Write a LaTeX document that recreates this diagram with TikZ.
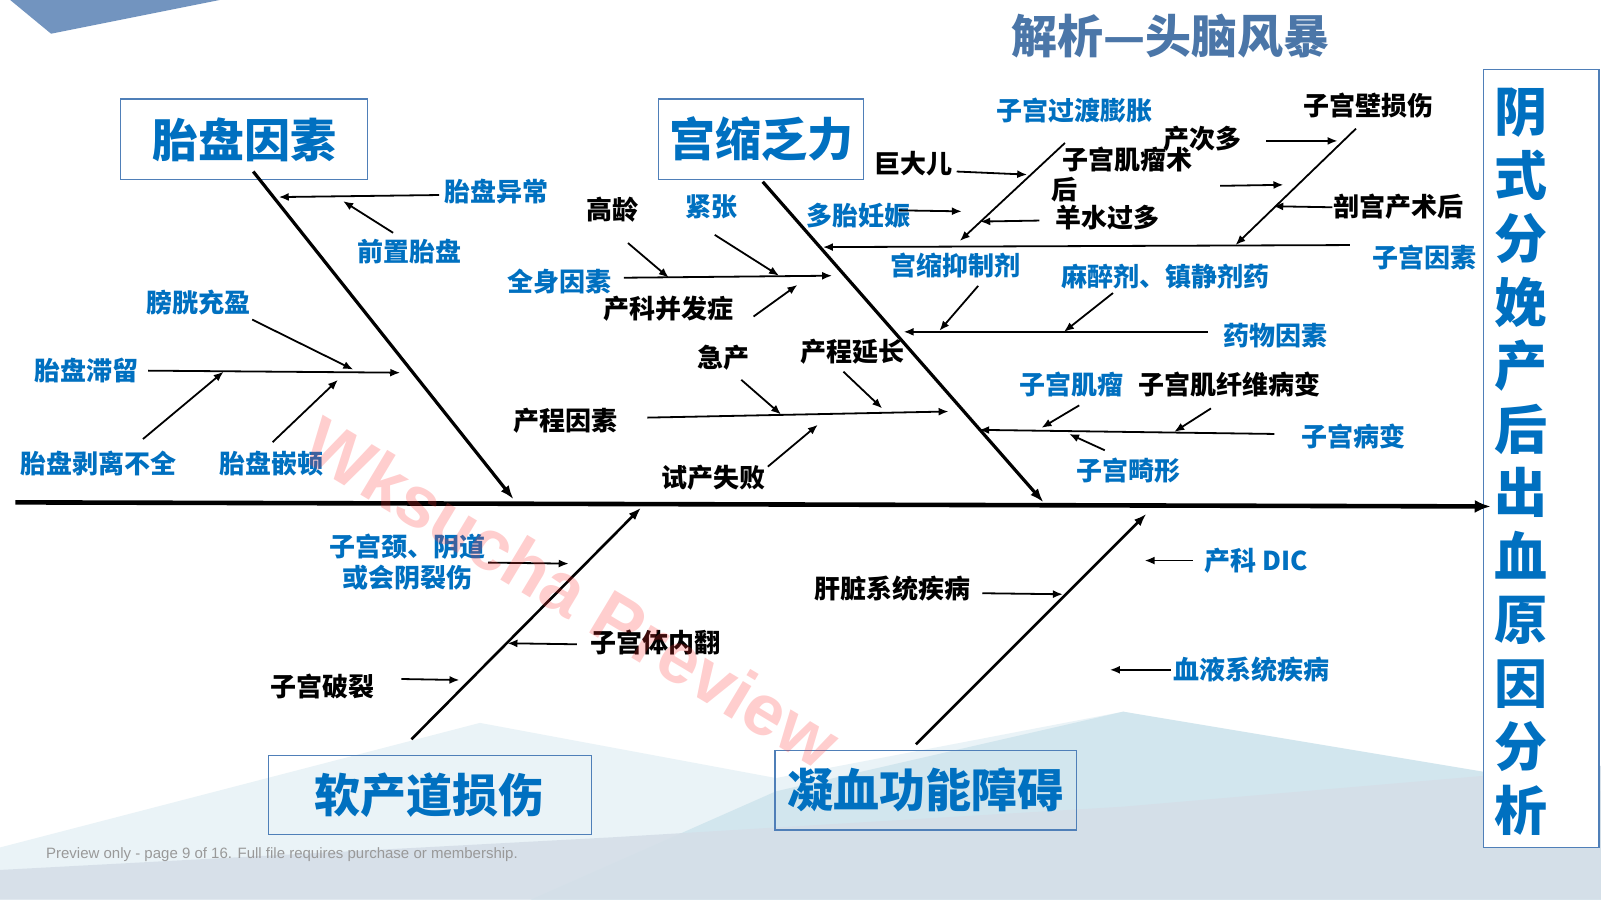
\documentclass[tikz,border=0pt]{standalone}
\usepackage{fontspec}
\setmainfont{Liberation Sans}
\newfontfamily\cjk{Noto Sans CJK SC}
\usetikzlibrary{arrows.meta}
\definecolor{myblue}{HTML}{0070C0}
\definecolor{boxline}{HTML}{4F7FB8}
\definecolor{titleblue}{HTML}{4B76A8}
\definecolor{ribbon}{HTML}{7294BF}
\definecolor{bgA}{HTML}{EAF3F7}
\definecolor{bgB}{HTML}{D2E6EE}
\definecolor{bgC}{HTML}{D5DFE8}
\tikzset{
 lb/.style={inner sep=0pt, font=\cjk\bfseries\fontsize{26}{31}\selectfont, text=myblue},
 lk/.style={inner sep=0pt, font=\cjk\bfseries\fontsize{26}{31}\selectfont, text=black},
 catbox/.style={draw=boxline, line width=1.3pt, text=myblue, font=\cjk\bfseries\fontsize{46}{50}\selectfont, inner sep=0pt},
 arr/.style={-{Latex[length=10pt,width=8pt]}, line width=1.8pt},
 bone/.style={-{Latex[length=14pt,width=10pt]}, line width=3.2pt},
 bonethin/.style={-{Latex[length=13pt,width=9pt]}, line width=2.6pt},
 spine/.style={-{Latex[length=16pt,width=13pt]}, line width=4.6pt},
}
\begin{document}
\begin{tikzpicture}[x=1.021pt,y={(0pt,-1.021pt)}]
\useasboundingbox (0,0) rectangle (1568,881);
% background
\fill[white] (0,0) rectangle (1568,881);
\fill[bgA] (0,830) -- (470,708) -- (760,762) -- (1100,697) -- (1568,790) -- (1568,881) -- (0,881) -- cycle;
\fill[bgB] (520,881) -- (760,775) -- (1100,697) -- (1568,775) -- (1568,881) -- cycle;
\fill[bgC, opacity=0.9] (0,852) -- (600,820) -- (1100,790) -- (1568,750) -- (1568,881) -- (0,881) -- cycle;
\fill[ribbon] (10,0) -- (215,0) -- (50,33) -- cycle;

% title
\node[inner sep=0pt, text=titleblue, font=\cjk\bfseries\fontsize{46}{50}\selectfont] (title) at (1146,35) {解析—头脑风暴};

% category boxes
\node[catbox, minimum width=247.1pt, minimum height=80.7pt] (cat1) at (239,136.5) {胎盘因素};
\node[catbox, minimum width=205.2pt, minimum height=80.7pt] (cat2) at (745.5,136.5) {宫缩乏力};
\node[catbox, minimum width=322.6pt, minimum height=78.6pt] (cat3) at (421,778.5) {软产道损伤};
\node[catbox, minimum width=301.2pt, minimum height=79.6pt] (cat4) at (906.5,774) {凝血功能障碍};
\node[draw=boxline, line width=1.3pt, fill=white, minimum width=115.4pt, minimum height=778pt, inner sep=0pt] (effect) at (1509.5,449) {};
\node[text=myblue, align=center, inner sep=0pt, font=\cjk\bfseries\fontsize{53}{63.5}\selectfont] (effecttext) at (1490,452) {阴\\式\\分\\娩\\产\\后\\出\\血\\原\\因\\分\\析};

% labels
\node[lb] (l1) at (486,188) {胎盘异常};
\node[lb] (l2) at (401,246) {前置胎盘};
\node[lb] (l3) at (194,296) {膀胱充盈};
\node[lb] (l4) at (85,363) {胎盘滞留};
\node[lb] (l5) at (96,454) {胎盘剥离不全};
\node[lb] (l6) at (266,454) {胎盘嵌顿};

\node[lk] (m1) at (600,205) {高龄};
\node[lb] (m2) at (697,203) {紧张};
\node[lb] (m3) at (548,276) {全身因素};
\node[lk] (m4) at (655,302) {产科并发症};
\node[lk] (m5) at (709,350) {急产};
\node[lk] (m6) at (835,344) {产程延长};
\node[lk] (m7) at (554,412) {产程因素};
\node[lk] (m8) at (699,468) {试产失败};

\node[lb] (n1) at (1052,108) {子宫过渡膨胀};
\node[lk] (n2) at (1340,103) {子宫壁损伤};
\node[lk] (n3) at (1178,136) {产次多};
\node[lk, align=left, anchor=north west, font=\cjk\bfseries\fontsize{26}{30}\selectfont] (n4) at (1030,144) {\hspace*{11pt}子宫肌瘤术\\后};
\node[lk] (n5) at (895,160) {巨大儿};
\node[lb] (n6) at (841,211) {多胎妊娠};
\node[lk] (n7) at (1085,213) {羊水过多};
\node[lk] (n8) at (1370,202) {剖宫产术后};
\node[lb] (n9) at (1395,252) {子宫因素};
\node[lb] (n10) at (936,260) {宫缩抑制剂};
\node[lb] (n11) at (1141,271) {麻醉剂、镇静剂药};
\node[lb] (n12) at (1249,329) {药物因素};
\node[lb] (n13) at (1049,377) {子宫肌瘤};
\node[lk] (n14) at (1204,377) {子宫肌纤维病变};
\node[lb] (n15) at (1326,427) {子宫病变};
\node[lb] (n16) at (1105,461) {子宫畸形};

\node[lb, align=center, font=\cjk\bfseries\fontsize{26}{31}\selectfont] (p1) at (399,551) {子宫颈、阴道\\或会阴裂伤};
\node[lk] (p2) at (642,629) {子宫体内翻};
\node[lk] (p3) at (316,672) {子宫破裂};
\node[lk] (q1) at (874,576) {肝脏系统疾病};
\node[lb] (q2) at (1230,549) {产科 DIC};
\node[lb] (q3) at (1226,656) {血液系统疾病};

% spine
\coordinate (s0) at (15,492);
\coordinate (s1) at (1460,496);
\draw[spine] (s0) -- (s1);

% bones
\coordinate (b1s) at (248,168); \coordinate (b1e) at (503,489);
\coordinate (b2s) at (747,178); \coordinate (b2e) at (1022,492);
\coordinate (b3s) at (403,724); \coordinate (b3e) at (628,497);
\coordinate (b4s) at (897,729); \coordinate (b4e) at (1123,503);
\draw[bone] (b1s) -- (b1e);
\draw[bone] (b2s) -- (b2e);
\draw[bonethin] (b3s) -- (b3e);
\draw[bonethin] (b4s) -- (b4e);

% sub arrows
\foreach \n/\ax/\ay/\bx/\by in {
 a1/430/191/273/193, a2/385/228/336/197, a3/247/313/346/362, a4/145/363/392/365,
 a5/140/430/219/364, a6/267/433/331/372,
 c1/611/272/815/270, c2/615/238/655/272, c3/700/230/763/270, c4/738/310/781/279,
 c5/634/409/929/403, c6/726/372/765/406, c7/826/364/864/400, c8/752/457/801/416,
 r1/1322/240/806/242, r2/1043/140/940/236, r3/937/168/1006/171, r4/880/206/942/207,
 r5/1018/216/960/217, r6/1328/126/1210/240, r7/1240/138/1310/138, r8/1195/182/1257/181,
 r9/1305/203/1247/202, r10/958/280/920/324, r11/1090/287/1042/325, r12/1183/325/885/325,
 r13/1248/425/959/421, r14/1057/397/1020/419, r15/1186/400/1150/423, r16/1082/441/1047/425,
 d1/478/551/557/552, d2/565/631/497/630, d3/393/665/450/666,
 e1/1168/549/1121/549, e2/962/581/1041/582, e3/1147/656/1087/656}{
 \coordinate (\n s) at (\ax,\ay);
 \coordinate (\n e) at (\bx,\by);
 \draw[arr] (\n s) -- (\n e);
}

% footer and watermark
\node[anchor=west, inner sep=0pt, text=black!40, font=\fontsize{15}{17}\selectfont] (foot) at (45,837) {Preview only - page 9 of 16. Full file requires purchase or membership.};
\node[rotate=-31, text=red!80!white, opacity=0.24, inner sep=0pt, font=\bfseries\fontsize{72}{76}\selectfont] (wm) at (560,580) {Wksucha Preview};
\end{tikzpicture}
\end{document}
